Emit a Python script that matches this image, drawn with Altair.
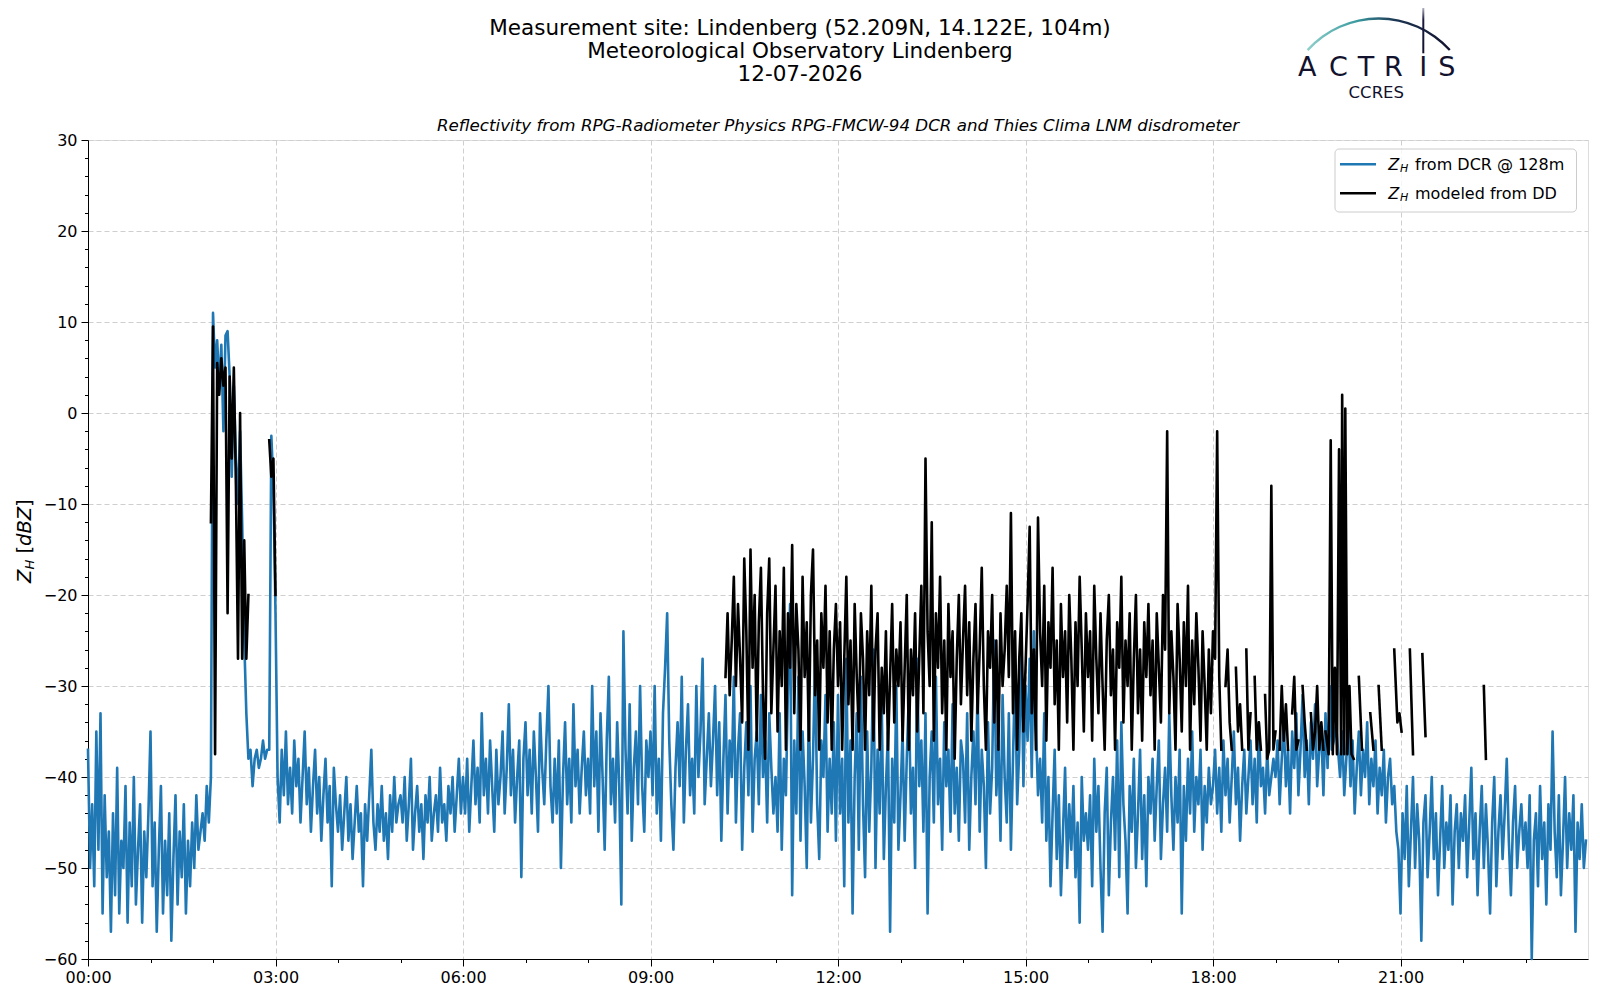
import altair as alt
import pandas as pd

# ---------------- data ----------------
# DCR reflectivity at 128 m, one value every 2 minutes from 00:00 (dBZ)
BLUE_STEP_MIN = 2
blue_h00 = [-37, -50, -43, -52, -35, -48, -33, -55, -42, -51, -46, -57, -44, -53, -39, -55, -47, -50, -41, -56, -45, -52, -40, -54, -48, -43, -56, -46, -51, -44]
blue_h01 = [-35, -52, -45, -57, -48, -41, -55, -47, -53, -44, -58, -49, -42, -54, -46, -51, -43, -55, -47, -52, -45, -50, -42, -48, -46, -44, -47, -41, -45, -40]
blue_h02 = [11, 5, 8, 3, 7.5, -2, 8.5, 9, 4, -7, 3, -5, -10, -2, -12, -25, -33, -38, -37, -41, -38, -37, -39, -38, -36, -38, -37, -37, -2.5, -8]
blue_h03 = [-22, -40, -45, -37, -42, -35, -43, -39, -44, -36, -41, -38, -45, -40, -35, -43, -39, -46, -41, -37, -44, -40, -47, -42, -38, -45, -41, -52, -39, -43]
blue_h04 = [-46, -42, -48, -44, -40, -47, -43, -49, -45, -41, -46, -44, -52, -43, -47, -42, -37, -45, -48, -43, -46, -41, -47, -44, -49, -42, -46, -40, -45, -43]
blue_h05 = [-42, -45, -40, -47, -43, -38, -48, -44, -41, -46, -43, -49, -42, -45, -40, -47, -44, -42, -46, -39, -45, -43, -47, -41, -44, -40, -46, -42, -38, -44]
blue_h06 = [-40, -44, -38, -46, -41, -36, -43, -39, -45, -33, -42, -38, -44, -36, -41, -46, -37, -43, -40, -35, -44, -39, -32, -42, -37, -45, -40, -36, -51, -38]
blue_h07 = [-34, -42, -37, -44, -35, -40, -46, -33, -39, -43, -36, -30, -41, -45, -38, -44, -36, -50, -40, -34, -43, -38, -45, -32, -41, -37, -44, -39, -35, -42]
blue_h08 = [-38, -44, -30, -41, -35, -46, -33, -40, -48, -36, -29, -43, -38, -45, -34, -41, -54, -24, -37, -44, -32, -47, -39, -35, -43, -30, -41, -46, -36, -40]
blue_h09 = [-35, -42, -30, -44, -38, -47, -33, -28, -22, -36, -43, -48, -39, -34, -41, -29, -45, -37, -32, -42, -38, -44, -30, -40, -35, -27, -43, -38, -33, -41]
blue_h10 = [-36, -30, -42, -34, -47, -38, -31, -44, -36, -40, -29, -45, -37, -33, -48, -39, -34, -42, -30, -46, -38, -35, -43, -31, -40, -36, -45, -33, -39, -44]
blue_h11 = [-40, -46, -33, -48, -38, -42, -30, -21, -53, -36, -44, -29, -47, -35, -41, -50, -32, -45, -38, -27, -43, -49, -36, -40, -31, -46, -38, -44, -34, -47]
blue_h12 = [-31, -44, -38, -52, -27, -45, -36, -55, -40, -33, -48, -29, -43, -51, -35, -46, -39, -26, -50, -37, -44, -32, -49, -41, -35, -57, -38, -45, -30, -48]
blue_h13 = [-42, -35, -47, -38, -31, -44, -39, -50, -27, -41, -36, -46, -33, -55, -40, -35, -45, -29, -43, -38, -48, -34, -41, -37, -46, -32, -44, -39, -47, -36]
blue_h14 = [-38, -45, -33, -48, -40, -35, -43, -30, -46, -37, -41, -50, -34, -44, -39, -25, -42, -36, -47, -31, -40, -45, -33, -48, -38, -28, -43, -37, -24, -41]
blue_h15 = [-30, -36, -27, -40, -24, -34, -42, -38, -45, -33, -47, -40, -52, -44, -37, -49, -42, -53, -46, -39, -50, -43, -48, -41, -51, -45, -56, -40, -47, -44]
blue_h16 = [-48, -42, -52, -38, -46, -41, -50, -57, -44, -39, -53, -45, -40, -48, -36, -51, -34, -43, -47, -55, -41, -46, -38, -50, -44, -37, -49, -42, -52, -40]
blue_h17 = [-44, -38, -47, -41, -36, -49, -43, -39, -46, -33, -42, -48, -40, -45, -37, -55, -41, -47, -38, -44, -35, -46, -40, -43, -37, -48, -41, -45, -39, -43]
blue_h18 = [-41, -37, -44, -39, -46, -36, -42, -38, -45, -40, -35, -43, -39, -47, -41, -37, -44, -40, -36, -43, -38, -45, -34, -41, -39, -44, -37, -42, -40, -38]
blue_h19 = [-40, -36, -43, -38, -34, -41, -37, -44, -35, -39, -33, -42, -37, -31, -40, -36, -43, -34, -38, -32, -41, -37, -35, -42, -33, -39, -30, -37, -36, -34]
blue_h20 = [-37, -40, -35, -42, -38, -33, -41, -36, -44, -39, -35, -42, -37, -40, -34, -43, -38, -41, -36, -44, -39, -42, -37, -45, -40, -38, -43, -41, -46, -48]
blue_h21 = [-55, -44, -49, -41, -52, -46, -40, -50, -43, -47, -58, -45, -42, -51, -46, -40, -49, -44, -53, -47, -41, -50, -45, -48, -42, -54, -46, -43, -50, -44]
blue_h22 = [-47, -42, -51, -45, -39, -49, -44, -53, -46, -41, -50, -43, -48, -55, -45, -40, -52, -46, -42, -49, -44, -38, -47, -53, -45, -41, -50, -46, -43, -48]
blue_h23 = [-45, -50, -42, -60, -47, -44, -52, -41, -49, -45, -54, -43, -48, -35, -46, -51, -42, -53, -47, -40, -50, -44, -48, -42, -57, -45, -49, -43, -50, -47]

# Disdrometer-modelled reflectivity (None = no precipitation / gap)
black_early_start_min = 118   # 01:58, every 2 minutes
black_early_step_min = 2
black_early_db = [-12, 9.5, -37.5, 5.5, 2, 6, 3, 5, -22, 4, -5, 5, -8, -27, 0, -27, -14, -27, -20,
                  None, None, None, None, None, None, None, None, None,
                  -3, -7, -5, -20]

black_day_start_min = 612     # 10:12, every 2 minutes
black_day_step_min = 2
black_day_h10 = [-29, -22, -31, -25, -18, -30, -21, -27, -34, -16, -24, -37, -15, -28, -20, -36, -23, -17, -31, -38, -22, -16, -33, -26]
black_day_h11 = [-19, -35, -24, -30, -17, -37, -22, -28, -14.5, -33, -21, -26, -37, -18, -29, -23, -36, -20, -15, -31, -25, -37, -22, -28, -19, -34, -24, -37, -26, -21]
black_day_h12 = [-30, -23, -37, -27, -18, -32, -25, -37, -21, -29, -35, -22, -27, -37, -24, -31, -19, -36, -26, -22, -37, -28, -33, -24, -37, -29, -21, -34, -26, -30]
black_day_h13 = [-23, -36, -28, -20, -37, -26, -31, -22, -35, -27, -19, -33, -5, -24, -30, -12, -36, -22, -28, -18, -33, -25, -37, -21, -29, -24, -38, -27, -20, -32]
black_day_h14 = [-25, -19, -31, -23, -36, -27, -21, -33, -26, -17, -30, -37, -24, -28, -20, -34, -25, -37, -22, -30, -26, -19, -29, -11, -33, -24, -37, -27, -22, -35]
black_day_h15 = [-28, -21, -12.5, -33, -26, -37, -11.5, -24, -30, -19, -36, -23, -28, -17, -32, -25, -37, -21, -29, -24, -34, -20, -27, -37, -23, -30, -18, -26, -35, -22]
black_day_h16 = [-29, -24, -36, -19, -27, -33, -22, -30, -37, -25, -20, -31, -26, -37, -23, -28, -18, -34, -25, -30, -22, -37, -27, -20, -33, -26, -36, -23, -29, -21]
black_day_h17 = [-31, -25, -37, -22, -28, -34, -20, -26, -2, -33, -24, -29, -37, -21, -27, -35, -23, -30, -19, -37, -25, -32, -22, -28, -36, -24, -30, -37, -26, -33]
black_day_h18 = [-24, -27, -2, -29, -37, None, -30, -26, -34, -37, None, -28, -35, -32, -37, None, -26, -37, -33, None, -29, -37, -34, -37, None, -31, -38, -37, -8, -37]
black_day_h19 = [-35, None, -37, -30, -36, -32, -37, None, -33, -29, -37, -36, None, -30, -34, -37, None, -33, -37, -35, -30, -37, -34, -37]

black_late_min = [1188, 1191, 1193, 1195, 1197, 1199, 1201, 1203, 1204, 1206, 1207, 1209, 1211, 1213, 1215,
                  1218, 1220, 1223, 1227, 1231, 1234, 1237, 1239, 1242, 1248, 1254, 1257, 1259, 1261,
                  1265, 1269, 1272, 1276, 1281, 1284, 1300, 1340, 1342]
black_late_db = [-35, -37.5, -3, -37.5, -28, -37.5, -4, -37.5, 2, -37.5, 0.5, -37.5, -30, -37.5, -38,
                 None, -29, -37, None, -33, -37, None, -30, -37, None, -26, -34, -33, -35,
                 None, -26, -37.5, None, -26.5, -35.5, None, -30, -38]

x_tick_hours = list(range(0, 24, 1))
y_ticks = list(range(-60, 31, 2))

title_lines = ["Measurement site: Lindenberg (52.209N, 14.122E, 104m)",
               "Meteorological Observatory Lindenberg",
               "12-07-2026"]
subtitle = "Reflectivity from RPG-Radiometer Physics RPG-FMCW-94 DCR and Thies Clima LNM disdrometer"
legend_rest = ["from DCR @ 128m", "modeled from DD"]

BLUE = "#1f77b4"
FONT = "DejaVu Sans"
NAVY = "#12122e"
LW = 2.6

# ---------------- build tables ----------------
def rows(times_min, vals, tag):
    out = []
    seg = 0
    for t, v in zip(times_min, vals):
        if v is None:
            seg += 1
            continue
        out.append({"t": t / 60.0, "v": v, "seg": f"{tag}{seg}"})
    return out

blue_db = (blue_h00 + blue_h01 + blue_h02 + blue_h03 + blue_h04 + blue_h05 + blue_h06 + blue_h07 +
           blue_h08 + blue_h09 + blue_h10 + blue_h11 + blue_h12 + blue_h13 + blue_h14 + blue_h15 +
           blue_h16 + blue_h17 + blue_h18 + blue_h19 + blue_h20 + blue_h21 + blue_h22 + blue_h23)
blue_df = pd.DataFrame(rows([i * BLUE_STEP_MIN for i in range(len(blue_db))], blue_db, "b"))

black_day_db = (black_day_h10 + black_day_h11 + black_day_h12 + black_day_h13 + black_day_h14 +
                black_day_h15 + black_day_h16 + black_day_h17 + black_day_h18 + black_day_h19)
black_rows = (rows([black_early_start_min + i * black_early_step_min for i in range(len(black_early_db))],
                   black_early_db, "e")
              + rows([black_day_start_min + i * black_day_step_min for i in range(len(black_day_db))],
                     black_day_db, "d")
              + rows(black_late_min, black_late_db, "l"))
black_df = pd.DataFrame(black_rows)

xscale = alt.Scale(domain=[0, 24], nice=False, zero=False)
yscale = alt.Scale(domain=[-60, 30], nice=False, zero=False)

x_axis = alt.Axis(
    values=x_tick_hours, tickCount=100, title=None, grid=True,
    labelExpr="datum.value % 3 == 0 ? ((datum.value < 10 ? '0' : '') + datum.value + ':00') : ''",
    tickSize={"condition": {"test": "datum.value % 3 != 0", "value": 3.5}, "value": 7},
    gridOpacity={"condition": {"test": "datum.value % 3 != 0", "value": 0}, "value": 1},
    gridColor="#cfcfcf", gridDash=[5, 3], gridWidth=1,
    labelFlush=False, labelOverlap=False, labelFontSize=16, labelFont=FONT, labelColor="black",
    tickColor="black", domainColor="black", labelPadding=3,
)
y_axis = alt.Axis(
    values=y_ticks, tickCount=100, title=None, grid=True,
    labelExpr="datum.value % 10 == 0 ? replace(datum.label, '-', '\u2212') : ''",
    tickSize={"condition": {"test": "datum.value % 10 != 0", "value": 3.5}, "value": 7},
    gridOpacity={"condition": {"test": "datum.value % 10 != 0", "value": 0}, "value": 1},
    gridColor="#cfcfcf", gridDash=[5, 3], gridWidth=1,
    labelFlush=False, labelOverlap=False, labelFontSize=16, labelFont=FONT, labelColor="black",
    tickColor="black", domainColor="black", labelPadding=4,
)

blue_line = alt.Chart(blue_df).mark_line(color=BLUE, strokeWidth=LW, strokeJoin="round",
                                         strokeCap="square").encode(
    x=alt.X("t:Q", scale=xscale, axis=x_axis),
    y=alt.Y("v:Q", scale=yscale, axis=y_axis),
    detail="seg:N",
)
black_line = alt.Chart(black_df).mark_line(color="black", strokeWidth=LW, strokeJoin="round",
                                           strokeCap="square").encode(
    x=alt.X("t:Q", scale=xscale),
    y=alt.Y("v:Q", scale=yscale),
    detail="seg:N",
)

one = alt.Data(values=[{"a": 1}])

def txt(s, x, y, size, align="center", style="normal", angle=0, color="black", baseline="middle"):
    m = alt.Chart(one).mark_text(text=s, fontSize=size, font=FONT, align=align, baseline=baseline,
                                 fontStyle=style, angle=angle, color=color)
    return m.encode(x=alt.value(x), y=alt.value(y))

layers = [blue_line, black_line]

# titles
layers.append(txt(title_lines[0], 712, -111.5, 21.5))
layers.append(txt(title_lines[1], 712, -88.5, 21.5))
layers.append(txt(title_lines[2], 712, -65.5, 21.5))
layers.append(txt(subtitle, 750, -14, 16.7, style="italic"))

# y-axis title  Z_H [dBZ]
layers.append(txt("Z", -63, 443, 19.5, align="left", style="italic", angle=270))
layers.append(txt("H", -58, 429.6, 13, align="left", style="italic", angle=270))
layers.append(txt("[", -63, 413.6, 19.5, align="left", angle=270))
layers.append(txt("dBZ", -63, 406, 19.5, align="left", style="italic", angle=270))
layers.append(txt("]", -63, 366.9, 19.5, align="left", angle=270))

# legend
layers.append(alt.Chart(one).mark_rect(fill="white", fillOpacity=0.8, stroke="#cccccc", strokeWidth=1,
                                        cornerRadius=4).encode(
    x=alt.value(1247), x2=alt.value(1488.5), y=alt.value(9), y2=alt.value(72)))
for yy, col, rest in [(24.3, BLUE, legend_rest[0]), (53.3, "black", legend_rest[1])]:
    layers.append(alt.Chart(one).mark_rule(color=col, strokeWidth=LW).encode(
        x=alt.value(1252), x2=alt.value(1288), y=alt.value(yy)))
    layers.append(txt("Z", 1300.3, yy + 0.7, 16, align="left", style="italic"))
    layers.append(txt("H", 1312, yy + 4.7, 11, align="left", style="italic"))
    layers.append(txt(rest, 1327, yy + 0.7, 16, align="left"))

# ACTRIS logo
arc_grad = alt.LinearGradient(gradient="linear", x1=0, y1=0, x2=1, y2=0, stops=[
    alt.GradientStop(color="#8fd0cc", offset=0),
    alt.GradientStop(color="#3a9aa0", offset=0.35),
    alt.GradientStop(color="#1c3552", offset=0.62),
    alt.GradientStop(color=NAVY, offset=1)])
layers.append(alt.Chart(one).mark_arc(radius=97, radius2=94.6, theta=5.447, theta2=7.119,
                                       color=arc_grad).encode(x=alt.value(1290.7), y=alt.value(-25.7)))
bar_grad = alt.LinearGradient(gradient="linear", x1=0, y1=0, x2=0, y2=1, stops=[
    alt.GradientStop(color="#ffffff", offset=0),
    alt.GradientStop(color="#1a1a40", offset=0.35),
    alt.GradientStop(color=NAVY, offset=1)])
layers.append(alt.Chart(one).mark_rect(color=bar_grad).encode(
    x=alt.value(1334.3), x2=alt.value(1336.3), y=alt.value(-138.3), y2=alt.value(-86.7)))
for letter, lx in zip(["A", "C", "T", "R", "I", "S"], [1219.3, 1250.3, 1278, 1305.3, 1335.3, 1358.7]):
    layers.append(txt(letter, lx, -72.2, 27, color=NAVY))
layers.append(txt("CCRES", 1288.3, -47.5, 16.5, color=NAVY))

chart = alt.layer(*layers).properties(
    width=1500, height=819,
    padding={"left": 80, "top": 132, "right": 4, "bottom": 32},
    autosize=alt.AutoSizeParams(type="none"),
).configure_view(stroke="black", strokeWidth=1).configure(background="white")

chart.save("out.html", embed_options={"renderer": "svg", "actions": False})
